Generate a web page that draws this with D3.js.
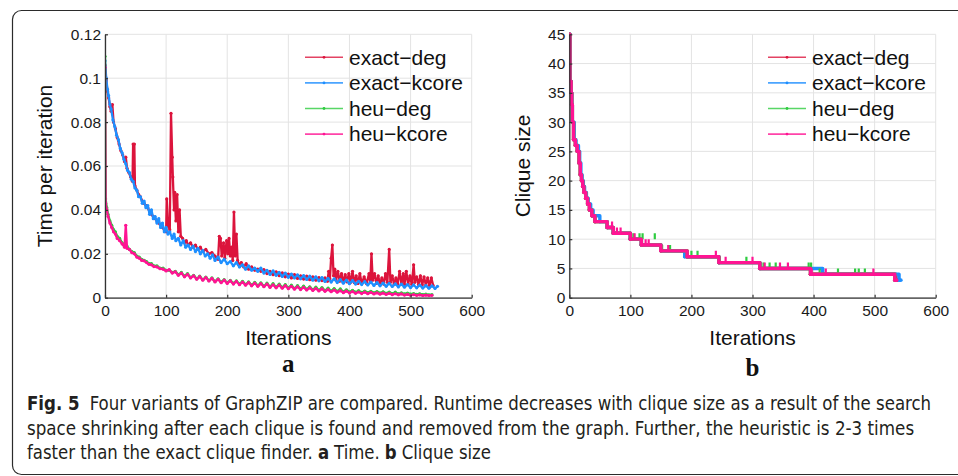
<!DOCTYPE html>
<html>
<head>
<meta charset="utf-8">
<script src="https://cdn.jsdelivr.net/npm/d3@7"></script>
<style>
    body { margin: 0; background: #fff; }
    svg { display: block; }
</style>
</head>
<body>
<div id="chart"></div>
<script>
const seriesNames = ['exact−deg', 'exact−kcore', 'heu−deg', 'heu−kcore'];
const seriesColors = ['#dc143c', '#1e8fff', '#2ecc40', '#ff1493'];
const xTicks = [0, 100, 200, 300, 400, 500, 600];
const timeTicks = [0, 0.02, 0.04, 0.06, 0.08, 0.1, 0.12];
const timeTickLabels = ['0', '0.02', '0.04', '0.06', '0.08', '0.1', '0.12'];
const sizeTicks = [0, 5, 10, 15, 20, 25, 30, 35, 40, 45];

// panel a: [iteration, seconds]
const timeExactDeg = [[0,0.106],[2,0.099],[4,0.094],[6,0.091],[8,0.087],[10,0.085],[12,0.088],[14,0.080],[17,0.077],[20,0.073],[23,0.070],[26,0.067],[29,0.065],[32,0.062],[34,0.064],[36,0.059],[39,0.057],[42,0.055],[45,0.053],[46,0.070],[48,0.070],[49,0.051],[52,0.049],[55,0.047],[58,0.046],[61,0.044],[64,0.043],[67,0.042],[70,0.041],[73,0.039],[76,0.038],[79,0.037],[82,0.036],[85,0.035],[88,0.034],[91,0.033],[94,0.032],[97,0.031],[100,0.030],[101,0.045],[103,0.033],[106,0.031],[108,0.084],[110,0.064],[111,0.055],[113,0.040],[114,0.048],[116,0.035],[118,0.047],[120,0.030],[122,0.040],[124,0.028],[127,0.027],[130,0.025],[133,0.026],[136,0.024],[140,0.025],[144,0.023],[148,0.024],[152,0.022],[156,0.023],[160,0.021],[165,0.022],[170,0.020],[175,0.0205],[180,0.019],[185,0.0175],[187,0.028],[189,0.027],[191,0.019],[194,0.025],[196,0.018],[199,0.026],[201,0.020],[203,0.027],[205,0.019],[207,0.023],[209,0.017],[211,0.039],[213,0.019],[215,0.029],[217,0.017],[219,0.015],[223,0.016],[227,0.014],[231,0.0155],[235,0.013],[240,0.014],[245,0.0125],[250,0.013],[255,0.012],[260,0.0128],[265,0.011],[270,0.012],[275,0.0105],[280,0.0118],[285,0.010],[290,0.0113],[295,0.0095],[300,0.0108],[305,0.009],[310,0.0105],[315,0.0088],[320,0.01],[325,0.0085],[330,0.0098],[335,0.0082],[340,0.0095],[345,0.008],[350,0.0092],[355,0.0078],[360,0.009],[364,0.0075],[366,0.012],[368,0.0085],[370,0.018],[372,0.024],[374,0.010],[376,0.013],[378,0.008],[381,0.012],[384,0.0075],[387,0.011],[390,0.007],[393,0.0105],[396,0.0072],[399,0.011],[402,0.007],[405,0.012],[408,0.0068],[411,0.01],[414,0.0065],[417,0.011],[420,0.0065],[424,0.0095],[428,0.0064],[432,0.011],[434,0.007],[436,0.020],[438,0.008],[441,0.011],[444,0.0065],[447,0.01],[450,0.006],[453,0.009],[456,0.0062],[459,0.011],[462,0.007],[465,0.022],[467,0.007],[470,0.01],[473,0.006],[476,0.009],[479,0.0062],[482,0.012],[485,0.0065],[488,0.011],[490,0.006],[493,0.012],[496,0.0062],[499,0.01],[502,0.006],[505,0.015],[507,0.007],[510,0.0095],[513,0.006],[516,0.01],[519,0.0058],[522,0.0095],[525,0.0057],[528,0.009],[531,0.0056],[534,0.009],[537,0.0055]];
const timeExactKcore = [[0,0.108],[2,0.100],[4,0.095],[6,0.092],[8,0.088],[10,0.086],[13,0.081],[16,0.078],[19,0.074],[22,0.072],[25,0.068],[28,0.066],[31,0.063],[34,0.061],[37,0.058],[40,0.057],[43,0.054],[46,0.053],[49,0.050],[52,0.049],[55,0.046],[58,0.046],[61,0.043],[64,0.044],[67,0.041],[70,0.042],[73,0.038],[76,0.040],[79,0.036],[82,0.037],[85,0.034],[88,0.036],[91,0.032],[94,0.034],[97,0.030],[100,0.032],[103,0.029],[106,0.030],[110,0.027],[113,0.029],[116,0.026],[120,0.027],[124,0.024],[128,0.026],[132,0.023],[136,0.024],[140,0.022],[144,0.0235],[148,0.021],[152,0.0225],[156,0.020],[160,0.0215],[164,0.019],[168,0.020],[172,0.018],[176,0.0195],[180,0.017],[185,0.0185],[190,0.016],[195,0.0175],[200,0.0155],[205,0.0165],[210,0.0145],[215,0.016],[220,0.014],[225,0.015],[230,0.013],[235,0.0145],[240,0.0125],[245,0.0135],[250,0.012],[255,0.0135],[260,0.0112],[265,0.0125],[270,0.0106],[275,0.0122],[280,0.0102],[285,0.0115],[290,0.0097],[295,0.0112],[300,0.0093],[305,0.0108],[310,0.009],[315,0.0104],[320,0.0086],[325,0.0101],[330,0.0083],[335,0.0098],[340,0.008],[345,0.0095],[350,0.0077],[355,0.0092],[360,0.0074],[365,0.0088],[370,0.0071],[375,0.0086],[380,0.0069],[385,0.0083],[390,0.0066],[395,0.008],[400,0.0064],[405,0.0078],[410,0.0062],[415,0.0075],[420,0.006],[425,0.0073],[430,0.0058],[435,0.0071],[440,0.0056],[445,0.0069],[450,0.0054],[455,0.0067],[460,0.0052],[465,0.0065],[470,0.0051],[475,0.0063],[480,0.0049],[485,0.0062],[490,0.0048],[495,0.006],[500,0.0046],[505,0.0058],[510,0.0045],[515,0.0057],[520,0.0044],[525,0.0055],[530,0.0043],[535,0.0054],[540,0.0042],[544,0.0052]];
const timeHeuDeg = [[0,0.110],[1,0.045],[3,0.041],[5,0.038],[8,0.035],[11,0.033],[14,0.031],[17,0.030],[20,0.028],[24,0.027],[28,0.025],[32,0.024],[36,0.0235],[40,0.022],[44,0.021],[48,0.0205],[52,0.019],[56,0.0185],[60,0.0175],[64,0.017],[68,0.0165],[72,0.0155],[76,0.0155],[80,0.0145],[85,0.0145],[90,0.0135],[95,0.0135],[100,0.0125],[105,0.0125],[110,0.0115],[115,0.012],[120,0.0105],[125,0.0115],[130,0.0098],[135,0.011],[140,0.0092],[145,0.0102],[150,0.0086],[155,0.0098],[160,0.0082],[165,0.0094],[170,0.0078],[175,0.009],[180,0.0074],[185,0.0086],[190,0.0071],[195,0.0082],[200,0.0068],[205,0.0079],[210,0.0065],[215,0.0077],[220,0.0062],[225,0.0075],[230,0.006],[235,0.0072],[240,0.0057],[245,0.007],[250,0.0055],[255,0.0068],[260,0.0052],[265,0.0066],[270,0.005],[275,0.0064],[280,0.0048],[285,0.0062],[290,0.0046],[295,0.006],[300,0.0044],[305,0.0057],[310,0.0042],[315,0.0055],[320,0.004],[325,0.0053],[330,0.0038],[335,0.005],[340,0.0036],[345,0.0048],[350,0.0034],[355,0.0046],[360,0.0032],[365,0.0044],[370,0.003],[375,0.0042],[380,0.0029],[385,0.004],[390,0.0027],[395,0.0036],[400,0.0026],[405,0.0034],[410,0.0025],[415,0.0032],[420,0.0024],[425,0.003],[430,0.0023],[435,0.0029],[440,0.0022],[445,0.0028],[450,0.0021],[455,0.0027],[460,0.002],[465,0.0026],[470,0.0019],[475,0.0025],[480,0.0018],[485,0.0022],[490,0.0017],[495,0.0021],[500,0.0016],[505,0.0019],[510,0.0015],[515,0.0018],[520,0.0014],[525,0.0016],[530,0.0013],[535,0.0014]];
const timeHeuKcore = [[0,0.105],[1,0.043],[3,0.040],[5,0.037],[8,0.034],[11,0.032],[14,0.030],[17,0.029],[20,0.027],[24,0.026],[28,0.0245],[32,0.023],[34,0.033],[36,0.0225],[40,0.022],[44,0.0205],[48,0.020],[52,0.0185],[56,0.018],[60,0.017],[64,0.0168],[68,0.016],[72,0.0152],[76,0.015],[80,0.0142],[85,0.014],[90,0.0132],[95,0.013],[100,0.0122],[105,0.0128],[110,0.0112],[115,0.0118],[120,0.0102],[125,0.0112],[130,0.0095],[135,0.0106],[140,0.009],[145,0.01],[150,0.0084],[155,0.0096],[160,0.008],[165,0.0092],[170,0.0076],[175,0.0088],[180,0.0072],[185,0.0084],[190,0.0068],[195,0.008],[200,0.0065],[205,0.0077],[210,0.0062],[215,0.0074],[220,0.0059],[225,0.0071],[230,0.0057],[235,0.0069],[240,0.0054],[245,0.0066],[250,0.0052],[255,0.0064],[260,0.005],[265,0.0062],[270,0.0047],[275,0.0059],[280,0.0045],[285,0.0057],[290,0.0043],[295,0.0055],[300,0.0041],[305,0.0052],[310,0.0039],[315,0.005],[320,0.0037],[325,0.0047],[330,0.0035],[335,0.0045],[340,0.0033],[345,0.0042],[350,0.0031],[355,0.004],[360,0.0029],[365,0.0037],[370,0.0027],[375,0.0035],[380,0.0025],[385,0.0032],[390,0.0023],[395,0.003],[400,0.0021],[405,0.0028],[410,0.002],[415,0.0026],[420,0.0019],[425,0.0025],[430,0.0018],[435,0.0024],[440,0.0017],[445,0.0022],[450,0.0016],[455,0.0021],[460,0.0015],[465,0.002],[470,0.0014],[475,0.0018],[480,0.0013],[485,0.0017],[490,0.0012],[495,0.0015],[500,0.0011],[505,0.0014],[510,0.0011],[515,0.0013],[520,0.001],[525,0.0012],[530,0.001],[535,0.0011]];

// panel b: [iteration, clique size] where the size changes
const sizeExactDeg = [[0,45],[1,37],[3,35],[4,33],[5,30],[7,27],[10,26],[13,25],[16,23],[18,21],[20,20],[22,19],[24,18],[27,17],[30,16],[33,15],[37,14],[42,13],[62,12],[72,11],[100,10],[118,9],[150,8],[193,7],[245,6],[312,5],[395,4],[535,3],[537,3]];
const sizeExactKcore = [[0,45],[1,37],[3,35],[4,33],[5,30],[8,27],[11,26],[15,25],[17,23],[19,21],[21,20],[23,19],[25,18],[28,17],[31,16],[35,15],[39,14],[50,13],[62,12],[72,11],[100,10],[118,9],[150,8],[189,7],[245,6],[312,5],[415,4],[540,3],[543,3]];
const sizeHeuDeg = [[0,45],[1,37],[3,35],[4,33],[5,30],[7,27],[10,26],[13,25],[16,23],[18,21],[20,20],[22,19],[24,18],[27,17],[30,16],[33,15],[37,14],[42,13],[62,12],[72,11],[100,10],[118,9],[150,8],[193,7],[245,6],[312,5],[395,4],[533,3],[535,3]];
const sizeHeuKcore = [[0,45],[1,37],[3,35],[4,33],[5,30],[7,27],[10,26],[13,25],[16,23],[18,21],[20,20],[22,19],[24,18],[27,17],[30,16],[33,15],[37,14],[42,13],[62,12],[72,11],[100,10],[118,9],[150,8],[193,7],[245,6],[312,5],[395,4],[533,3],[536,3]];
// one-iteration jumps up: [iteration, size]
const blipsHeuDeg = [[105,11],[115,11],[120,11],[140,11],[152,9],[165,9],[200,8],[210,8],[246,7],[290,7],[318,6],[328,6],[338,6],[392,6],[396,6],[410,5],[440,5],[468,5],[474,5],[484,5]];
const blipsHeuKcore = [[70,13],[78,12],[84,12],[107,11],[118,10],[125,10],[130,10],[162,9],[240,8],[256,7],[300,7],[320,6],[345,6],[358,6],[397,5],[420,5],[498,5]];

// caption runs: [text, bold, spaces before]
const captionLines = [
    [['Fig. 5', true, 0], ['Four variants of GraphZIP are compared. Runtime decreases with clique size as a result of the search', false, 2]],
    [['space shrinking after each clique is found and removed from the graph. Further, the heuristic is 2-3 times', false, 0]],
    [['faster than the exact clique finder.', false, 0], ['a', true, 1], ['Time.', false, 1], ['b', true, 1], ['Clique size', false, 1]]
];

const svg = d3.select('#chart').append('svg').attr('width', 958).attr('height', 476);

svg.append('rect')
    .attr('x', 12.5).attr('y', 10.5).attr('width', 1000).attr('height', 464)
    .attr('rx', 9)
    .attr('fill', 'none').attr('stroke', '#2b2b2b').attr('stroke-width', 1.2);

const plotTop = 34.3;
const plotBottom = 297.7;

const drawPanel = (opts) => {
    const x = d3.scaleLinear().domain([0, 600]).range([opts.left, opts.right]);
    const y = d3.scaleLinear().domain([0, opts.yMax]).range([plotBottom, plotTop]);
    const g = svg.append('g');

    // grid
    g.append('g').selectAll('line').data(xTicks).join('line')
        .attr('x1', d => x(d)).attr('x2', d => x(d))
        .attr('y1', plotBottom).attr('y2', plotTop)
        .attr('stroke', '#e3e3e3').attr('stroke-width', 1);
    g.append('g').selectAll('line').data(opts.yTicks).join('line')
        .attr('x1', opts.left).attr('x2', opts.right)
        .attr('y1', d => y(d)).attr('y2', d => y(d))
        .attr('stroke', '#e3e3e3').attr('stroke-width', 1);

    const clipId = 'clip-' + opts.id;
    svg.append('clipPath').attr('id', clipId).append('rect')
        .attr('x', opts.left).attr('y', plotTop - 3)
        .attr('width', opts.right - opts.left + 4).attr('height', plotBottom - plotTop + 3);

    const plot = g.append('g').attr('clip-path', `url(#${clipId})`);
    const line = d3.line().x(d => x(d[0])).y(d => y(d[1]));
    if (opts.step) line.curve(d3.curveStepAfter);

    opts.series.forEach((data, i) => {
        plot.append('path')
            .datum(data)
            .attr('fill', 'none')
            .attr('stroke', seriesColors[i])
            .attr('stroke-width', opts.step ? 3.4 : 2.3)
            .attr('stroke-linejoin', 'round')
            .attr('d', line);
        plot.append('g').selectAll('circle').data(data).join('circle')
            .attr('cx', d => x(d[0])).attr('cy', d => y(d[1]))
            .attr('r', opts.step ? 1.8 : 1.6)
            .attr('fill', seriesColors[i]);
        const blips = opts.blips ? opts.blips[i] : null;
        if (blips) {
            plot.append('g').selectAll('line').data(blips).join('line')
                .attr('x1', d => x(d[0])).attr('x2', d => x(d[0]))
                .attr('y1', d => y(d[1])).attr('y2', d => y(d[1] - 1))
                .attr('stroke', seriesColors[i]).attr('stroke-width', 2.2);
        }
    });

    // axes
    const xAxis = d3.axisBottom(x).tickValues(xTicks).tickSizeInner(-3).tickSizeOuter(0).tickPadding(7);
    const yAxis = d3.axisLeft(y).tickValues(opts.yTicks).tickSizeInner(-3).tickSizeOuter(0).tickPadding(4)
        .tickFormat((d, i) => opts.yLabels[i]);

    const styleAxis = sel => {
        sel.select('.domain').attr('stroke', '#333').attr('stroke-width', 1.3);
        sel.selectAll('.tick line').attr('stroke', '#333').attr('stroke-width', 1.2);
        sel.selectAll('text')
            .attr('font-family', '"Liberation Sans", Arial, sans-serif')
            .attr('font-size', 15.5)
            .attr('fill', '#1a1a1a');
    };

    g.append('g').attr('transform', `translate(0,${plotBottom})`).call(xAxis).call(styleAxis);
    g.append('g').attr('transform', `translate(${opts.left},0)`).call(yAxis).call(styleAxis);

    g.append('text')
        .attr('transform', `translate(${opts.titleX},${(plotTop + plotBottom) / 2}) rotate(-90)`)
        .attr('text-anchor', 'middle')
        .attr('dy', '0.35em')
        .attr('font-family', '"Liberation Sans", Arial, sans-serif')
        .attr('font-size', 21)
        .attr('fill', '#111')
        .text(opts.yTitle);

    g.append('text')
        .attr('x', (opts.left + opts.right) / 2).attr('y', 344.5)
        .attr('text-anchor', 'middle')
        .attr('font-family', '"Liberation Sans", Arial, sans-serif')
        .attr('font-size', 21)
        .attr('fill', '#111')
        .text('Iterations');

    g.append('text')
        .attr('x', (opts.left + opts.right) / 2).attr('y', opts.letterY)
        .attr('text-anchor', 'middle')
        .attr('font-family', '"Liberation Serif", "Times New Roman", serif')
        .attr('font-weight', 'bold')
        .attr('font-size', 25)
        .attr('fill', '#111')
        .text(opts.letter);

    // legend
    const legend = g.append('g');
    const rows = legend.selectAll('g').data(seriesNames).join('g')
        .attr('transform', (d, i) => `translate(${opts.legendX},${57.3 + i * 25.6})`);
    rows.append('line')
        .attr('x1', 0).attr('x2', 38)
        .attr('stroke', (d, i) => seriesColors[i])
        .attr('stroke-opacity', 0.8)
        .attr('stroke-width', 1.6);
    rows.append('circle')
        .attr('cx', 19).attr('r', 1.4)
        .attr('fill', (d, i) => seriesColors[i]);
    rows.append('text')
        .attr('x', 44).attr('dy', '0.35em')
        .attr('font-family', '"Liberation Sans", Arial, sans-serif')
        .attr('font-size', 21)
        .attr('fill', '#111')
        .text(d => d);
};

drawPanel({
    id: 'a', left: 105, right: 471.7, yMax: 0.12,
    yTicks: timeTicks, yLabels: timeTickLabels,
    series: [timeExactDeg, timeExactKcore, timeHeuDeg, timeHeuKcore],
    yTitle: 'Time per iteration', titleX: 45,
    letter: 'a', letterY: 372,
    legendX: 305
});

drawPanel({
    id: 'b', left: 569.3, right: 935.7, yMax: 45,
    yTicks: sizeTicks, yLabels: sizeTicks.map(String),
    series: [sizeExactDeg, sizeExactKcore, sizeHeuDeg, sizeHeuKcore],
    blips: [null, null, blipsHeuDeg, blipsHeuKcore],
    step: true,
    yTitle: 'Clique size', titleX: 523,
    letter: 'b', letterY: 376,
    legendX: 768
});

// caption: each line is laid out at natural width, then squeezed horizontally to the measured width
const captionWidths = [905, 888, 464];
const spaceWidth = 5.2;
captionLines.forEach((parts, i) => {
    const lineG = svg.append('g')
        .attr('font-family', '"Liberation Sans Narrow", "DejaVu Sans Condensed", "Open Sans", sans-serif')
        .attr('font-size', 19)
        .attr('fill', '#231f20');
    let cx = 0;
    parts.forEach(p => {
        cx += p[2] * spaceWidth;
        const t = lineG.append('text')
            .attr('x', cx).attr('y', 0)
            .attr('font-weight', p[1] ? 'bold' : 'normal')
            .text(p[0]);
        cx += t.node().getComputedTextLength();
    });
    const k = captionWidths[i] / cx;
    lineG.attr('transform', `translate(27,${410 + i * 24.5}) scale(${k},1)`);
});
</script>
</body>
</html>
